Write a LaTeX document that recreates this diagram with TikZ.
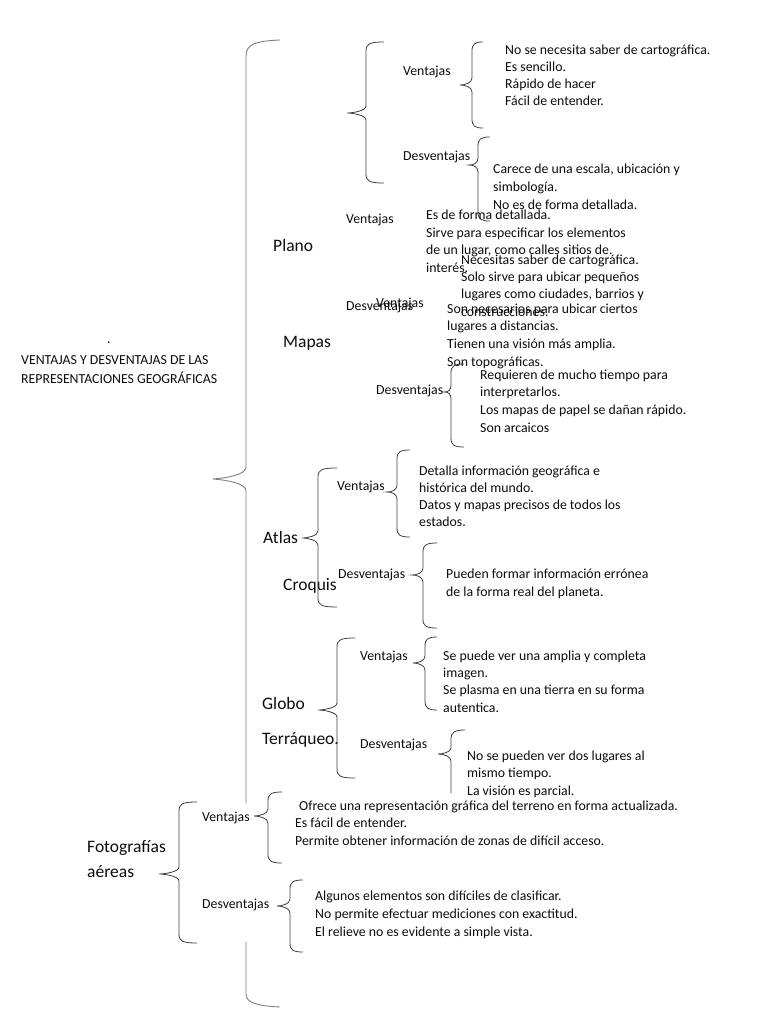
\documentclass[tikz,border=0pt]{standalone}
\usepackage{fontspec}
\setmainfont{Carlito}
\newcommand\cbr[6]{%
 \draw[brc] (#1+#6,#2) .. controls (#1+3,#2) and (#1,#2+2) .. (#1,#2+9)
   -- (#1,#3-7) .. controls (#1,#3-2) and (#1-#5+5,#3) .. (#1-#5,#3)
   .. controls (#1-#5+5,#3) and (#1,#3+2) .. (#1,#3+7)
   -- (#1,#4-9) .. controls (#1,#4-2) and (#1+3,#4) .. (#1+#6,#4);}
\tikzset{
 lbl/.style={anchor=west, inner sep=0, font=\fontsize{13.8}{17.5}\selectfont, text=black!95},
 bigl/.style={anchor=west, inner sep=0, font=\fontsize{17.5}{21}\selectfont, text=black!95},
 lst/.style={anchor=north west, inner sep=0, align=left, text=black!95},
 brc/.style={draw=black!75, line width=0.8pt},
 brcbig/.style={draw=black!50, line width=0.9pt},
}
\newcommand\lsp[1]{\fontsize{13.8}{#1}\selectfont}
\begin{document}
\begin{tikzpicture}[x=1pt,y=-1pt]
\useasboundingbox (0,0) rectangle (768,1024);
\fill[white] (0,0) rectangle (768,1024);
% title
\node[lbl] (dot) at (107,343) {.};
\node[lbl] (t1) at (21,360) {VENTAJAS Y DESVENTAJAS DE LAS};
\node[lbl] (t2) at (21,378) {REPRESENTACIONES GEOGRÁFICAS};
% big brace
\draw[brcbig] (280,40) .. controls (256,41) and (246,44) .. (246,56) -- (246,467)
  .. controls (246,475) and (226,478) .. (213,479)
  .. controls (226,480) and (246,483) .. (246,491) -- (246,803);
\draw[brcbig] (246,942) -- (246,994) .. controls (246,1003) and (258,1006) .. (280,1007);
% ---- Plano
\cbr{366}{42}{113}{183}{19}{18}
\node[lbl] (pV) at (403,72) {Ventajas};
\node[lbl] (pD) at (403,157) {Desventajas};
\cbr{472}{42}{85}{128}{12}{11}
\cbr{478}{137}{165}{221}{9}{12}
\node[lst,font=\lsp{17}] (pv) at (505,44) {\rule{0pt}{10pt}No se necesita saber de cartográfica.\\Es sencillo.\\Rápido de hacer\\Fácil de entender.};
\node[lst,font=\lsp{18}] (pd) at (493,163) {\rule{0pt}{10pt}Carece de una escala, ubicación y\\simbología.\\No es de forma detallada.};
% ---- Mapas
\node[bigl] (plano) at (273,245) {Plano};
\node[bigl] (mapas) at (283,343) {Mapas};
\node[lbl] (mV) at (346,220) {Ventajas};
\node[lbl] (mD) at (346,307) {Desventajas};
\node[lbl] (mV2) at (376,304) {Ventajas};
\node[lbl] (mD2) at (376,391) {Desventajas};
\node[lst,font=\lsp{17.8}] (mv1) at (426,209) {\rule{0pt}{10pt}Es de forma detallada.\\Sirve para especificar los elementos\\de un lugar, como calles sitios de.\\interés.};
\node[lst,font=\lsp{17.3}] (mv2) at (461,254) {\rule{0pt}{10pt}Necesitas saber de cartográfica.\\Solo sirve para ubicar pequeños\\lugares como ciudades, barrios y\\construcciones.};
\node[lst,font=\lsp{17.7}] (mv3) at (447,303) {\rule{0pt}{10pt}Son necesarios para ubicar ciertos\\lugares a distancias.\\Tienen una visión más amplia.\\Son topográficas.};
\cbr{451}{364}{392}{447}{7}{13}
\node[lst,font=\lsp{17.7}] (md) at (480,369) {\rule{0pt}{10pt}Requieren de mucho tiempo para\\interpretarlos.\\Los mapas de papel se dañan rápido.\\Son arcaicos};
% ---- Atlas
\node[bigl] (atlas) at (263,537) {Atlas};
\node[bigl] (croquis) at (283,586) {Croquis};
\cbr{318}{468}{538}{607}{16}{19}
\node[lbl] (aV) at (337,487) {Ventajas};
\node[lbl] (aD) at (338,575) {Desventajas};
\cbr{397}{450}{492}{537}{10}{13}
\cbr{423}{543}{575}{628}{11}{14}
\node[lst,font=\lsp{17}] (av) at (419,465) {\rule{0pt}{10pt}Detalla información geográfica e\\histórica del mundo.\\Datos y mapas precisos de todos los\\estados.};
\node[lst,font=\lsp{18}] (ad) at (446,568) {\rule{0pt}{10pt}Pueden formar información errónea\\de la forma real del planeta.};
% ---- Globo
\node[bigl] (globo) at (262,703) {Globo};
\node[bigl] (terr) at (262,740) {Terráqueo.};
\cbr{337}{638}{710}{778}{19}{18}
\node[lbl] (gV) at (360,657) {Ventajas};
\node[lbl] (gD) at (360,745) {Desventajas};
\cbr{425}{637}{663}{710}{12}{12}
\draw[brc] (465,730) .. controls (455,730) and (451,732) .. (451,739) -- (451,748)
   .. controls (451,752) and (443,754) .. (438,754)
   .. controls (443,754) and (451,756) .. (451,761) -- (451,793);
\node[lst,font=\lsp{17.3}] (gv) at (443,650) {\rule{0pt}{10pt}Se puede ver una amplia y completa\\imagen.\\Se plasma en una tierra en su forma\\autentica.};
\node[lst,font=\lsp{17.5}] (gd) at (467,750) {\rule{0pt}{10pt}No se pueden ver dos lugares al\\mismo tiempo.\\La visión es parcial.};
% ---- Fotografias
\node[bigl] (foto) at (87,848) {Fotografías};
\node[bigl] (aereas) at (87,872) {aéreas};
\cbr{179}{802}{874}{943}{20}{18}
\node[lbl] (fV) at (202,818) {Ventajas};
\node[lbl] (fD) at (202,905) {Desventajas};
\cbr{268}{792}{816}{863}{14}{14}
\cbr{290}{880}{906}{952}{13}{13}
\node[lst,font=\lsp{17.5}] (fv) at (295,800) {\rule{0pt}{10pt}\hspace*{4pt}Ofrece una representación gráfica del terreno en forma actualizada.\\Es fácil de entender.\\Permite obtener información de zonas de difícil acceso.};
\node[lst,font=\lsp{18}] (fd) at (315,890) {\rule{0pt}{10pt}Algunos elementos son difíciles de clasificar.\\No permite efectuar mediciones con exactitud.\\El relieve no es evidente a simple vista.};
\end{tikzpicture}
\end{document}
